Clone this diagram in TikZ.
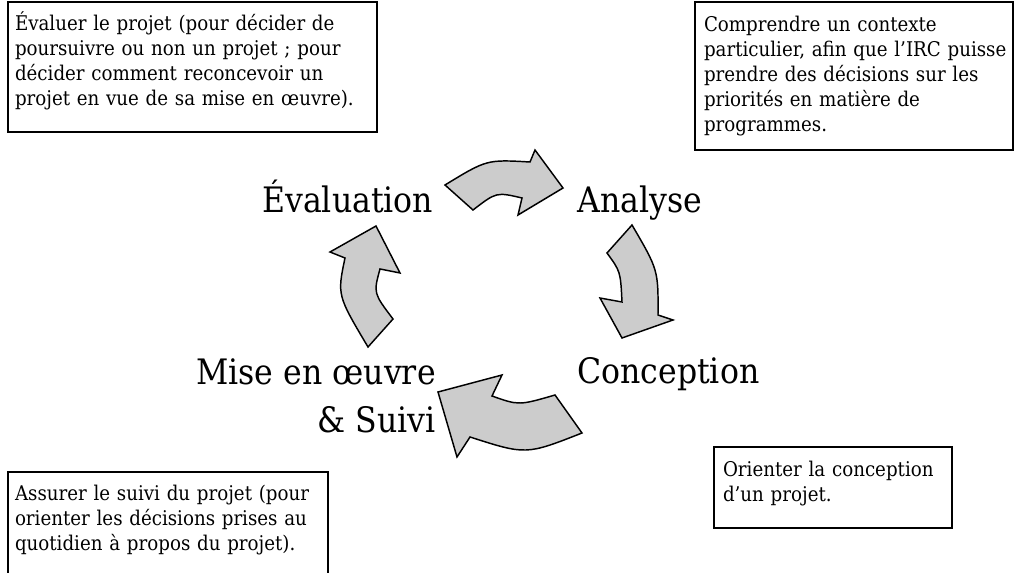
\documentclass[tikz,border=0pt]{standalone}
\usepackage{fontspec}
\setmainfont{DejaVu Serif Condensed}
\definecolor{arrowgray}{gray}{0.8}
\begin{document}
\begin{tikzpicture}[x=0.75pt, y=-0.75pt,
  stage/.style={font=\fontsize{26.3}{36}\selectfont, inner sep=0pt},
  notebox/.style={draw, line width=1.5pt, inner ysep=0pt, align=left,
    font=\fontsize{15.2}{18.75}\selectfont, anchor=base west},
  cyclearrow/.style={draw, line width=1.1pt, fill=arrowgray, line join=miter}]
\useasboundingbox (0,0) rectangle (1014,573);
\clip (0,0) rectangle (1014,573);
\node[notebox, inner xsep=5.25pt, text width=266.25pt, text height=21.75pt, text depth=75.75pt] (evalnote) at (7,31)
  {Évaluer le projet (pour décider de\\ poursuivre ou non un projet ; pour\\ décider comment reconcevoir un\\ projet en vue de sa mise en œuvre).};
\node[notebox, inner xsep=6.75pt, text width=225pt, text height=22.5pt, text depth=88.5pt] (ananote) at (694,32)
  {Comprendre un contexte\\ \mbox{particulier, afin que l’IRC puisse}\\ prendre des décisions sur les\\ priorités en matière de\\ programmes.};
\node[notebox, inner xsep=6.75pt, text width=165pt, text height=22.5pt, text depth=38.25pt] (concnote) at (713,477)
  {Orienter la conception\\ d’un projet.};
\node[notebox, inner xsep=5.25pt, text width=229.5pt, text height=21pt, text depth=75pt] (suivinote) at (7,500)
  {Assurer le suivi du projet (pour\\ orienter les décisions prises au\\ quotidien à propos du projet).};

\node[stage, anchor=base west] (evaluation) at (262,213) {Évaluation};
\node[stage, anchor=base west] (analyse) at (577,213) {Analyse};
\node[stage, anchor=base west] (conception) at (577,384) {Conception};
\node[stage, anchor=base east, align=right] (miseenoeuvre) at (436,433) {Mise en œuvre\\ \& Suivi};

\draw[cyclearrow] (445,185) .. controls (486.8,159.5) .. (530,162) -- (535,150) -- (563,188) -- (518,215)
  -- (522,198) .. controls (496.4,192) .. (473,210) -- cycle;
\draw[cyclearrow] (632,225) .. controls (658.3,270) .. (658,315) -- (673,320) -- (622,338) -- (600,298)
  -- (622,302) .. controls (620.5,271.5) .. (607,253) -- cycle;
\draw[cyclearrow] (582,433) .. controls (526,455) .. (470,437) -- (457,457) -- (438,392) -- (502,375)
  -- (492,396) .. controls (518.8,405.5) .. (555,395) -- cycle;
\draw[cyclearrow] (368,347) .. controls (337.2,295.2) .. (345,258) -- (330,252) -- (376,226) -- (400,273)
  -- (380,269) .. controls (373.4,293.1) .. (393,319) -- cycle;
\end{tikzpicture}
\end{document}
